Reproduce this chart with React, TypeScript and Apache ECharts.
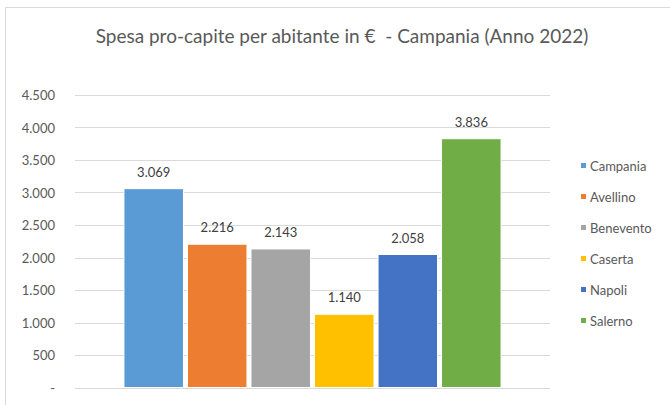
import React, { useEffect, useRef } from "react";
import * as echarts from "echarts";

const titleText = "Spesa pro-capite per abitante in €  - Campania (Anno 2022)";
const categories = [""];
const seriesNames = ["Campania", "Avellino", "Benevento", "Caserta", "Napoli", "Salerno"];
const seriesValues = [3069, 2216, 2143, 1140, 2058, 3836];
const seriesColors = ["#5B9BD5", "#ED7D31", "#A5A5A5", "#FFC000", "#4472C4", "#70AD47"];
const yMin = 0;
const yMax = 4500;
const yInterval = 500;

const fmt = (v: number) => (v === 0 ? "-" : v.toString().replace(/\B(?=(\d{3})+(?!\d))/g, "."));

const FONT = "Lato, 'Open Sans', 'Noto Sans', sans-serif";

export default function App() {
  const ref = useRef<HTMLDivElement>(null);
  useEffect(() => {
    document.body.style.margin = "0";
    if (!ref.current) return;
    const chart = echarts.init(ref.current, null, { renderer: "svg" });
    chart.setOption({
      animation: false,
      backgroundColor: "#ffffff",
      textStyle: { fontFamily: FONT },
      title: {
        text: titleText,
        left: 337,
        textAlign: "center",
        top: 21,
        textStyle: { fontFamily: FONT, fontSize: 19, fontWeight: "normal", color: "#595959" },
      },
      graphic: [
        {
          type: "rect",
          shape: { x: 5.5, y: 7.5, width: 700, height: 420 },
          style: { fill: "none", stroke: "#d9d9d9", lineWidth: 1 },
          silent: true,
        },
      ],
      legend: {
        orient: "vertical",
        left: 574,
        top: 154,
        itemWidth: 7,
        itemHeight: 7,
        itemGap: 18,
        icon: "rect",
        textStyle: { fontFamily: FONT, fontSize: 13, color: "#595959", padding: [0, 0, 0, -2] },
        data: seriesNames,
      },
      grid: { left: 75, right: 120, top: 95, bottom: 17, containLabel: false },
      xAxis: {
        type: "category",
        data: categories,
        axisLine: { show: false },
        axisTick: { show: false },
        axisLabel: { show: false },
      },
      yAxis: {
        type: "value",
        min: yMin,
        max: yMax,
        interval: yInterval,
        axisLine: { show: false },
        axisTick: { show: false },
        splitLine: { lineStyle: { color: "#d9d9d9", width: 1 } },
        axisLabel: {
          formatter: (v: number) => fmt(v),
          fontFamily: FONT,
          fontSize: 13,
          color: "#595959",
          margin: 20,
        },
      },
      series: seriesNames.map((name, i) => ({
        name,
        type: "bar",
        data: [seriesValues[i]],
        barGap: "5%",
        barCategoryGap: "20.4%",
        itemStyle: { color: seriesColors[i], borderColor: "#ffffff", borderWidth: 1 },
        label: {
          show: true,
          position: "top",
          distance: 10,
          formatter: (p: any) => fmt(p.value),
          fontFamily: FONT,
          fontSize: 13,
          color: "#404040",
        },
      })),
    });
    return () => chart.dispose();
  }, []);
  return <div ref={ref} style={{ width: 670, height: 405 }} />;
}
